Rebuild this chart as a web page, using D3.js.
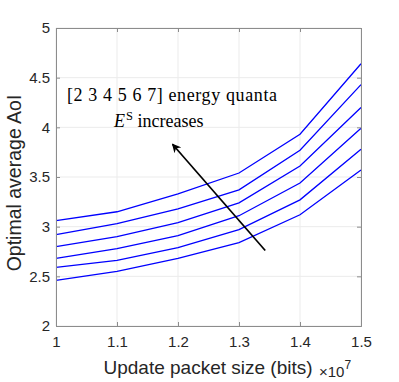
<!DOCTYPE html>
<html>
<head>
<meta charset="utf-8">
<script src="https://cdn.jsdelivr.net/npm/d3@7"></script>
<style>
  body { margin: 0; background: #fff; }
  svg { display: block; }
</style>
</head>
<body>
<svg width="399" height="382"></svg>
<script>
// packet size (x 1e7 bits)
var packetSize = [1, 1.1, 1.2, 1.3, 1.4, 1.5];
// optimal average AoI, one series per number of energy quanta (top = 7 ... bottom = 2)
var aoiQ7 = [3.06, 3.15, 3.33, 3.54, 3.93, 4.64];
var aoiQ6 = [2.92, 3.03, 3.18, 3.37, 3.77, 4.43];
var aoiQ5 = [2.80, 2.90, 3.04, 3.24, 3.61, 4.20];
var aoiQ4 = [2.68, 2.78, 2.91, 3.11, 3.44, 3.99];
var aoiQ3 = [2.59, 2.66, 2.79, 2.97, 3.27, 3.78];
var aoiQ2 = [2.46, 2.55, 2.68, 2.84, 3.12, 3.57];
var series = [aoiQ7, aoiQ6, aoiQ5, aoiQ4, aoiQ3, aoiQ2];

var xTicks = [1, 1.1, 1.2, 1.3, 1.4, 1.5];
var yTicks = [2, 2.5, 3, 3.5, 4, 4.5, 5];

// arrow in data coords (start, tip)
var arrowFrom = [1.343, 2.76];
var arrowTo = [1.191, 3.83];

drawChart();

function drawChart() {
  var svg = d3.select("svg");
  var mLeft = 56, mRight = 361, mTop = 28, mBottom = 326;

  var x = d3.scaleLinear().domain([1, 1.5]).range([mLeft, mRight]);
  var y = d3.scaleLinear().domain([2, 5]).range([mBottom, mTop]);

  var axisColor = "#8c8c8c";
  var textColor = "#262626";
  var sans = "'Liberation Sans', Arial, Helvetica, sans-serif";
  var serif = "'Liberation Serif', 'Times New Roman', serif";

  // grid
  var grid = svg.append("g");
  grid.selectAll("line.gx").data(xTicks).enter().append("line")
    .attr("x1", function(d) { return x(d); }).attr("x2", function(d) { return x(d); })
    .attr("y1", mTop).attr("y2", mBottom)
    .attr("stroke", "#ebebeb");
  grid.selectAll("line.gy").data(yTicks).enter().append("line")
    .attr("y1", function(d) { return y(d); }).attr("y2", function(d) { return y(d); })
    .attr("x1", mLeft).attr("x2", mRight)
    .attr("stroke", "#ebebeb");

  // the six curves
  var line = d3.line()
    .x(function(d, i) { return x(packetSize[i]); })
    .y(function(d) { return y(d); });

  svg.append("g").selectAll("path").data(series).enter().append("path")
    .attr("d", line)
    .attr("fill", "none")
    .attr("stroke", "#0000ff")
    .attr("stroke-width", 1.3);

  // box axes, ticks pointing in
  svg.append("g").attr("transform", "translate(0," + mBottom + ")")
    .call(d3.axisBottom(x).tickValues(xTicks).tickSize(-4).tickPadding(10)
      .tickFormat(function(d) { return d === 1 ? "1" : d3.format(".1f")(d); }));
  svg.append("g").attr("transform", "translate(" + mLeft + ",0)")
    .call(d3.axisLeft(y).tickValues(yTicks).tickSize(-4).tickPadding(6)
      .tickFormat(function(d) { return d % 1 === 0 ? d : d3.format(".1f")(d); }));
  svg.append("g").attr("transform", "translate(0," + mTop + ")")
    .call(d3.axisTop(x).tickValues(xTicks).tickSize(-4).tickFormat(""));
  svg.append("g").attr("transform", "translate(" + mRight + ",0)")
    .call(d3.axisRight(y).tickValues(yTicks).tickSize(-4).tickFormat(""));

  svg.selectAll(".domain").attr("stroke", axisColor);
  svg.selectAll(".tick line").attr("stroke", axisColor);
  svg.selectAll(".tick text")
    .attr("fill", textColor)
    .style("font-family", sans)
    .style("font-size", "15px");

  // axis labels
  svg.append("text")
    .attr("x", 208).attr("y", 374)
    .attr("text-anchor", "middle")
    .attr("fill", textColor)
    .style("font-family", sans)
    .style("font-size", "19px")
    .text("Update packet size (bits)");

  var mult = svg.append("text")
    .attr("x", 319).attr("y", 377)
    .attr("fill", textColor)
    .style("font-family", sans)
    .style("font-size", "15px");
  mult.append("tspan").text("\u00d710");
  mult.append("tspan").attr("dy", -8).style("font-size", "12px").text("7");

  svg.append("text")
    .attr("transform", "translate(21,183) rotate(-90)")
    .attr("text-anchor", "middle")
    .attr("fill", textColor)
    .style("font-family", sans)
    .style("font-size", "19.5px")
    .text("Optimal average AoI");

  // annotation
  svg.append("text")
    .attr("x", 67).attr("y", 101)
    .attr("fill", "#000")
    .style("font-family", serif)
    .style("font-size", "18px")
    .attr("textLength", 210)
    .attr("lengthAdjust", "spacing")
    .text("[2 3 4 5 6 7] energy quanta");

  var t2 = svg.append("text")
    .attr("x", 114).attr("y", 127)
    .attr("fill", "#000")
    .style("font-family", serif)
    .style("font-size", "18px");
  t2.append("tspan").style("font-style", "italic").text("E");
  t2.append("tspan").attr("dx", 1).attr("dy", -7).style("font-size", "12.5px").text("S");
  t2.append("tspan").attr("dy", 7).text(" increases");

  // arrow
  svg.append("defs").append("marker")
    .attr("id", "head")
    .attr("viewBox", "0 0 10 10")
    .attr("refX", 9).attr("refY", 5)
    .attr("markerWidth", 11).attr("markerHeight", 9)
    .attr("markerUnits", "userSpaceOnUse")
    .attr("orient", "auto")
    .append("path")
    .attr("d", "M0,0 L10,5 L0,10 L3,5 Z")
    .attr("fill", "#000");

  svg.append("line")
    .attr("x1", x(arrowFrom[0])).attr("y1", y(arrowFrom[1]))
    .attr("x2", x(arrowTo[0])).attr("y2", y(arrowTo[1]))
    .attr("stroke", "#000")
    .attr("stroke-width", 1.7)
    .attr("marker-end", "url(#head)");
}
</script>
</body>
</html>
